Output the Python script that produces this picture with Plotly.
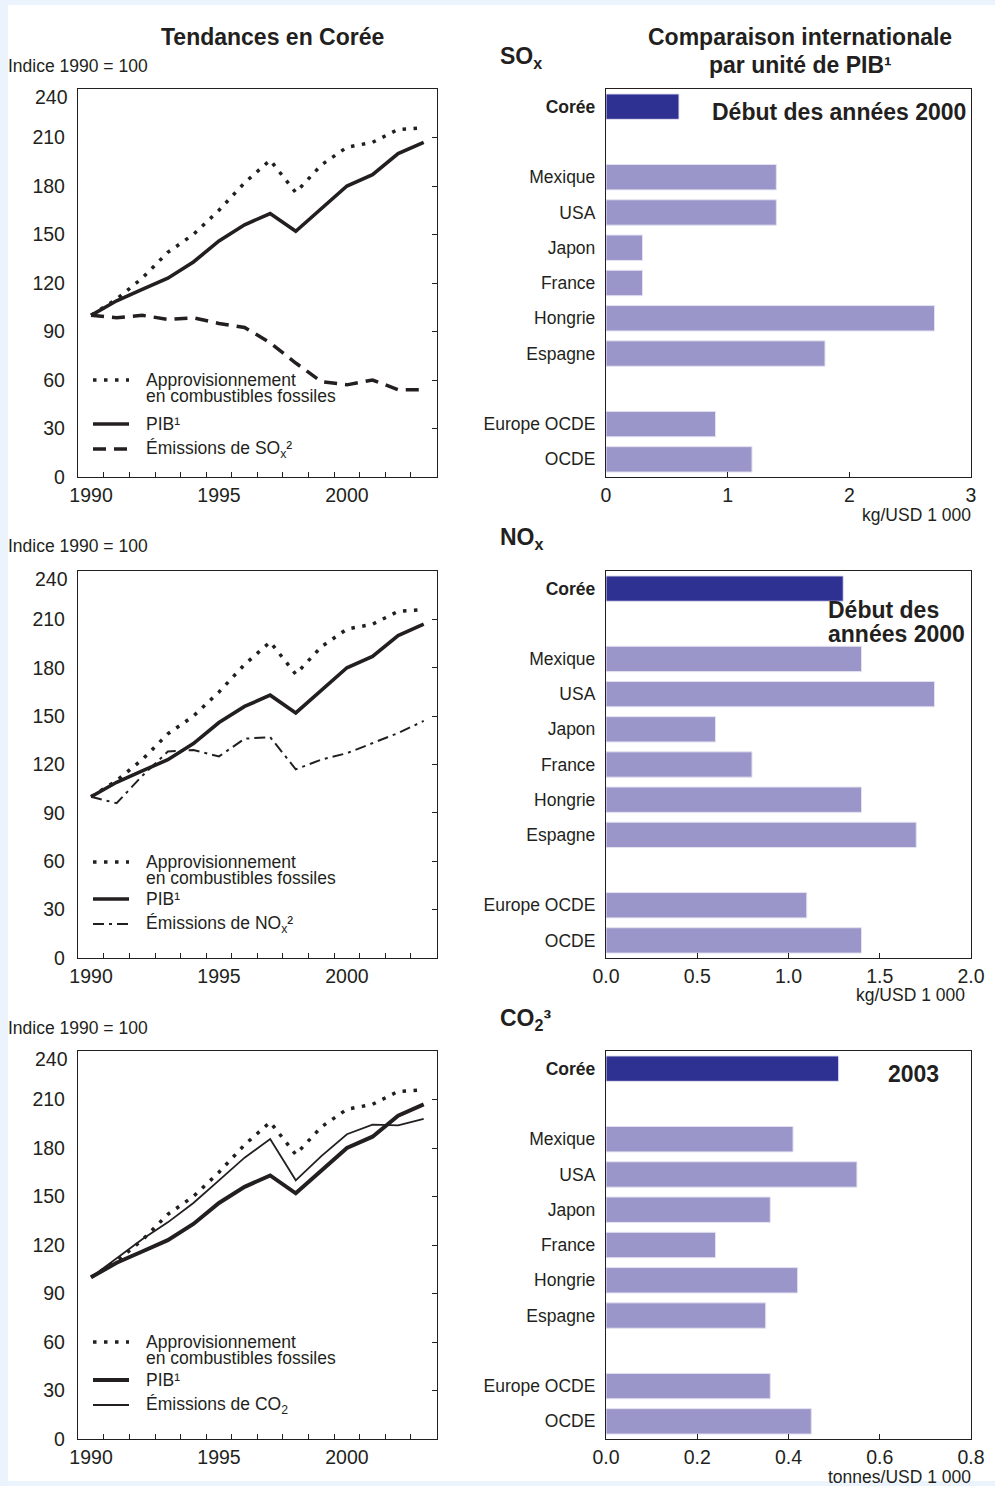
import plotly.graph_objects as go

# ---------------- data ----------------
years = list(range(1990, 2004))
gdp_index = [100, 109, 116, 123, 133, 146, 156, 163, 152, 166, 180, 187, 200, 207]
fossil_supply_index = [100, 110, 123, 139, 150, 165, 182, 196, 176, 193, 204, 207, 215, 216]
sox_index = [100, 98.5, 100, 97.5, 98.5, 95, 92.5, 83, 70.5, 59, 57, 60, 54, 54]
nox_index = [100, 96, 113, 128, 129, 125, 136, 137, 117, 123, 127, 133.5, 139.5, 147]
co2_index = [100, 112, 123.5, 134, 146, 160, 174, 185.5, 160, 175, 188.5, 194.5, 194, 198]

countries = ["Corée", "Mexique", "USA", "Japon", "France", "Hongrie", "Espagne",
             "Europe OCDE", "OCDE"]
sox_per_gdp = [0.6, 1.4, 1.4, 0.3, 0.3, 2.7, 1.8, 0.9, 1.2]
nox_per_gdp = [1.3, 1.4, 1.8, 0.6, 0.8, 1.4, 1.7, 1.1, 1.4]
co2_per_gdp = [0.51, 0.41, 0.55, 0.36, 0.24, 0.42, 0.35, 0.36, 0.45]

# category slots, with blank rows separating the groups
category_slots = ["Corée", "gap1", "Mexique", "USA", "Japon", "France", "Hongrie",
                  "Espagne", "gap2", "Europe OCDE", "OCDE"]

index_ticks = [0, 30, 60, 90, 120, 150, 180, 210, 240]
year_labels = [1990, 1995, 2000]

# ---------------- styling ----------------
W, H = 995, 1486
INK = "#231f20"
FONT = "Liberation Sans, Arial, Helvetica, sans-serif"
KOREA = "#2e3192"
OTHERS = "#9b96c9"
BG = "#ebf3fd"


def px(x):
    return x / W


def py(y):
    return 1 - y / H


def axname(letter, n):
    return f"{letter}axis" if n == 1 else f"{letter}axis{n}"


def axref(letter, n):
    return letter if n == 1 else f"{letter}{n}"


rows_top = [89, 571, 1051]
rows_bot = [477, 958, 1439]

DOT = dict(color=INK, width=3.5, dash="3.5px,7.5px")
SOLID = dict(color=INK, width=3.6)
emission_series = [
    (sox_index, dict(color=INK, width=3.5, dash="13px,8px")),
    (nox_index, dict(color=INK, width=2, dash="11px,5px,3px,5px")),
    (co2_index, dict(color=INK, width=1.8)),
]

bar_sets = [
    (sox_per_gdp, [0, 3], [0, 1, 2, 3], ["0", "1", "2", "3"]),
    (nox_per_gdp, [0, 2], [0, 0.5, 1, 1.5, 2], ["0.0", "0.5", "1.0", "1.5", "2.0"]),
    (co2_per_gdp, [0, 0.8], [0, 0.2, 0.4, 0.6, 0.8], ["0.0", "0.2", "0.4", "0.6", "0.8"]),
]

fig = go.Figure()
layout_axes = {}
annotations = []


def note(text, x, y, size=17.5, bold=False, xanchor="left"):
    annotations.append(dict(
        text=f"<b>{text}</b>" if bold else text, x=px(x), y=py(y), xref="paper",
        yref="paper", xanchor=xanchor, yanchor="middle", showarrow=False,
        font=dict(size=size, color=INK, family=FONT),
    ))


for i in range(3):
    nl, nr, nt = 2 * i + 1, 2 * i + 2, 7 + i
    xl, yl, xr, yr, yt = (axref("x", nl), axref("y", nl), axref("x", nr),
                          axref("y", nr), axref("y", nt))
    ydom = [py(rows_bot[i]), py(rows_top[i])]

    # ---- index lines ----
    emis, emis_style = emission_series[i]
    fig.add_trace(go.Scatter(x=years, y=emis, mode="lines", line=emis_style,
                             xaxis=xl, yaxis=yl, showlegend=False))
    fig.add_trace(go.Scatter(x=years, y=fossil_supply_index, mode="lines", line=DOT,
                             xaxis=xl, yaxis=yl, showlegend=False))
    fig.add_trace(go.Scatter(x=years, y=gdp_index, mode="lines",
                             line=dict(SOLID, width=4 if i == 2 else 3.6),
                             xaxis=xl, yaxis=yl, showlegend=False))
    # carrier for the right-hand tick axis
    fig.add_trace(go.Scatter(x=[years[0]], y=[None], mode="lines", xaxis=xl, yaxis=yt,
                             showlegend=False, hoverinfo="skip"))

    layout_axes[axname("x", nl)] = dict(
        domain=[px(78), px(437)], anchor=yl, range=[1989.49, 2003.52],
        tickvals=year_labels, ticks="", showline=True, linecolor=INK, linewidth=1.3,
        mirror=True, showgrid=False, zeroline=False, ticklabelstandoff=0,
        automargin=False,
        tickfont=dict(size=19.5, color=INK, family=FONT),
        minor=dict(tickvals=[y + 0.5 for y in years[:-1]], ticks="inside", ticklen=5,
                   tickwidth=1, tickcolor=INK, showgrid=False),
    )
    # the top label (240) sits a little below its gridline, drawn separately
    layout_axes[axname("y", nl)] = dict(
        domain=ydom, anchor=xl, range=[0, 240], tickvals=index_ticks[:-1], ticks="",
        showline=True, linecolor=INK, linewidth=1.3, mirror=True, showgrid=False,
        zeroline=False, ticklabelstandoff=8, automargin=False,
        tickfont=dict(size=19.5, color=INK, family=FONT),
    )
    annotations.append(dict(
        text=str(index_ticks[-1]), x=px(78 - 8), xref="paper", y=index_ticks[-1],
        yref=yl, xanchor="right", yanchor="middle", yshift=-8, showarrow=False,
        font=dict(size=19.5, color=INK, family=FONT),
    ))
    layout_axes[axname("y", nt)] = dict(
        overlaying=yl, side="right", anchor=xl, range=[0, 240],
        tickvals=index_ticks[1:-1], ticks="inside", ticklen=5, tickwidth=1,
        tickcolor=INK, showticklabels=False, showline=False, showgrid=False,
        zeroline=False, automargin=False,
    )

    # ---- per-GDP bars ----
    vals, xrange_, xticks, xtext = bar_sets[i]
    fig.add_trace(go.Bar(
        x=vals, y=countries, orientation="h", width=0.72,
        marker=dict(color=[KOREA if c == "Corée" else OTHERS for c in countries],
                    line=dict(color="#e4e2f1", width=1)),
        xaxis=xr, yaxis=yr, showlegend=False,
    ))
    layout_axes[axname("x", nr)] = dict(
        domain=[px(606), px(971)], anchor=yr, range=xrange_, tickvals=xticks,
        ticktext=xtext, ticks="inside", ticklen=5, tickwidth=1, tickcolor=INK,
        showline=True, linecolor=INK, linewidth=1.3, mirror=True, showgrid=False,
        zeroline=False, ticklabelstandoff=0, automargin=False,
        tickfont=dict(size=19.5, color=INK, family=FONT),
    )
    layout_axes[axname("y", nr)] = dict(
        domain=ydom, anchor=xr, type="category", categoryorder="array",
        categoryarray=category_slots, range=[10.5, -0.5], tickmode="array",
        tickvals=countries,
        ticktext=["<b>Corée</b>" if c == "Corée" else c for c in countries],
        ticks="", showline=True, linecolor=INK, linewidth=1.3, mirror=True,
        showgrid=False, zeroline=False, ticklabelstandoff=6, automargin=False,
        tickfont=dict(size=17.5, color=INK, family=FONT),
    )

# ---------------- text ----------------
note("Tendances en Corée", 272, 37, size=23, bold=True, xanchor="center")
note("Comparaison internationale", 800, 37, size=23, bold=True, xanchor="center")
note("par unité de PIB¹", 800, 65, size=23, bold=True, xanchor="center")

for lbl_y in [66, 546, 1028]:
    note("Indice 1990 = 100", 6, lbl_y)

legend_rows = [(380, 396, 424, 449), (862, 878, 899, 924), (1342, 1358, 1380, 1405)]
emission_labels = ["Émissions de SO<sub>x</sub>²", "Émissions de NO<sub>x</sub>²",
                   "Émissions de CO<sub>2</sub>"]
shapes = [dict(type="rect", xref="paper", yref="paper", x0=px(8), x1=px(995),
               y0=py(1481), y1=py(5), fillcolor="white", line=dict(width=0),
               layer="below")]

for i, (ya, yb, yc, yd) in enumerate(legend_rows):
    note("Approvisionnement", 144, ya)
    note("en combustibles fossiles", 144, yb)
    note("PIB¹", 144, yc)
    note(emission_labels[i], 144, yd)
    _, emis_style = emission_series[i]
    for y_, style in [(ya, DOT), (yc, dict(SOLID, width=4 if i == 2 else 3.6)),
                      (yd, emis_style)]:
        shapes.append(dict(type="line", xref="paper", yref="paper", x0=px(93),
                           x1=px(129), y0=py(y_), y1=py(y_), line=style))

note("SO<sub>x</sub>", 498, 57, size=23, bold=True)
note("NO<sub>x</sub>", 498, 538, size=23, bold=True)
note("CO<sub>2</sub>³", 498, 1020, size=23, bold=True)

note("Début des années 2000", 968, 112, size=23, bold=True, xanchor="right")
note("Début des", 826, 610, size=23, bold=True)
note("années 2000", 826, 634, size=23, bold=True)
note("2003", 913, 1074, size=23, bold=True, xanchor="center")

note("kg/USD 1 000", 973, 515, xanchor="right")
note("kg/USD 1 000", 967, 995, xanchor="right")
note("tonnes/USD 1 000", 973, 1477, xanchor="right")

fig.update_layout(
    template="none",
    width=W, height=H, margin=dict(l=0, r=0, t=0, b=0, pad=0),
    paper_bgcolor=BG, plot_bgcolor="white",
    font=dict(family=FONT, color=INK),
    annotations=annotations, shapes=shapes, bargap=0.2, showlegend=False,
    **layout_axes,
)

fig.write_html("out.html")
